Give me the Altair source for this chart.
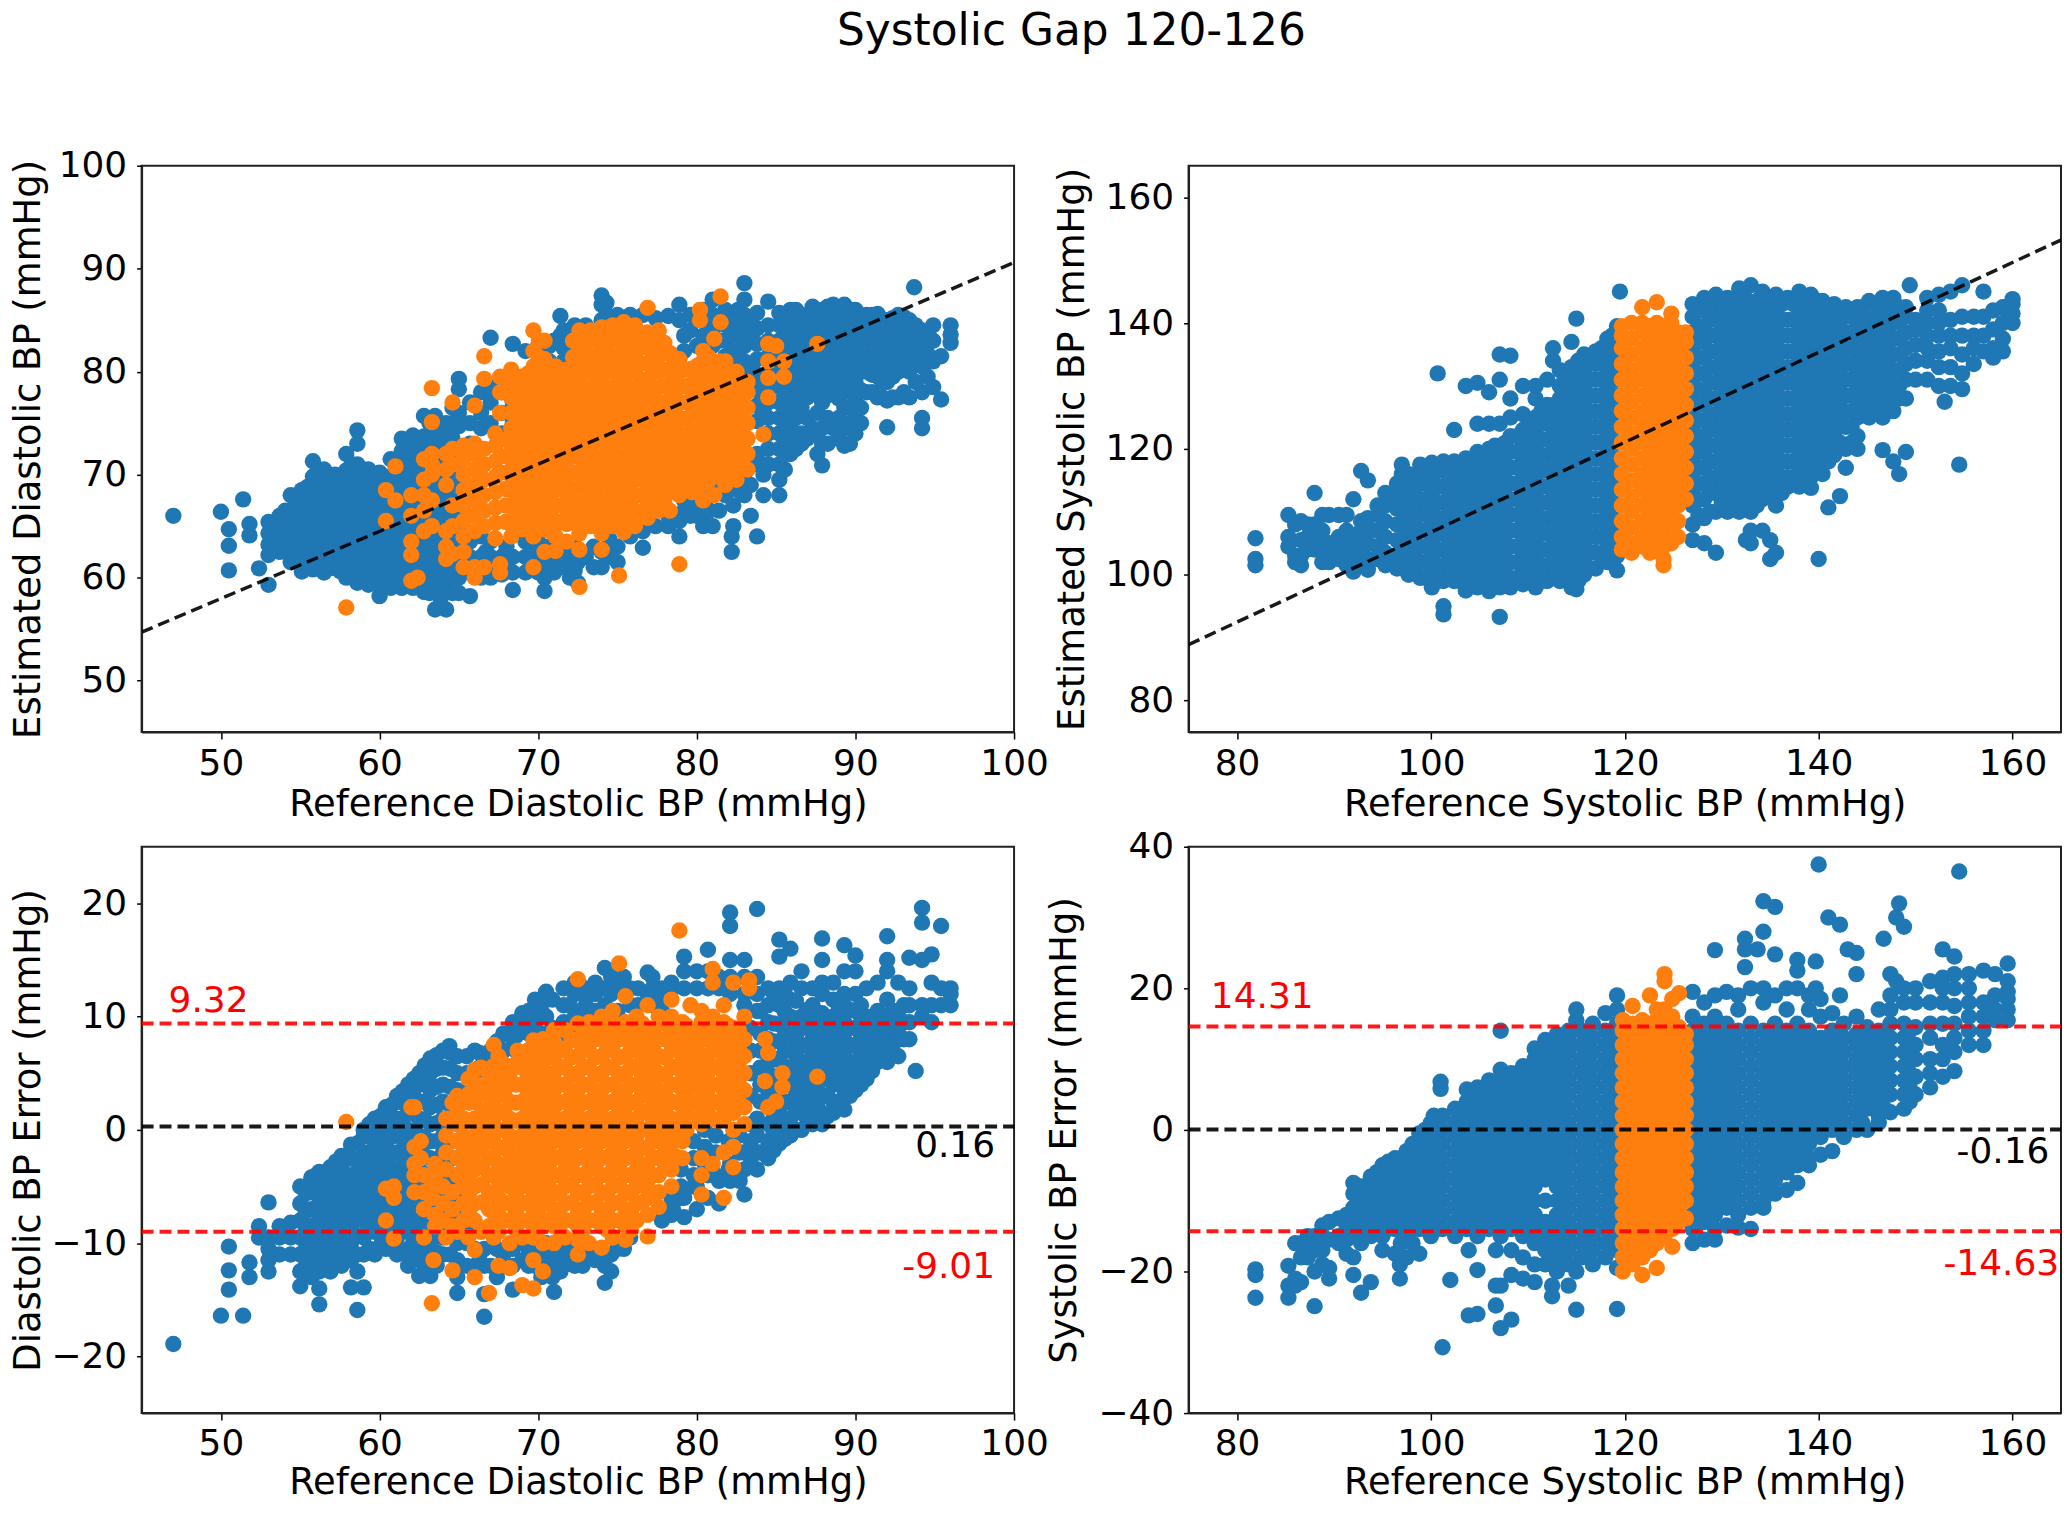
import altair as alt

TITLE = "Systolic Gap 120-126"
D_XLAB = "Reference Diastolic BP (mmHg)"
S_XLAB = "Reference Systolic BP (mmHg)"

D_EST_BLUE = [(47,[66]),(50,[66.4]),(50.5,[60.7,63.1,64.7]),(51.4,[67.6]),(51.8,[64.1,65.2]),(52.4,[60.9]),
(53,[59.3,62.2,63.2,64.3,65.4]),(53.7,[62.5,63.8,65,66]),(54.4,[61.5,63,64.3,65.5,66.5,68]),
(55.1,[60.6,62,63.2,64.5,65.7,67,68.5]),(55.8,[60.8,62.3,63.8,65.3,66.8,68.3,69.8,71.3]),
(56.5,[60.5,62,63.5,65,66.5,68,69.5,70.5]),(57.2,[60.9,62.4,63.9,65.4,66.9,68.4,70]),
(57.9,[60,61.5,63,64.5,66,67.5,69,70.4,72]),(58.6,[59.5,61,62.5,64,65.5,67,68.5,70,71,73,74.3]),
(59.3,[59.3,60.8,62.3,63.8,65.3,66.8,68.3,69.8,70.5]),(60,[58.2,60,61.5,63,64.5,66,67.5,69,70.2]),
(60.7,[59,60.7,62.2,63.7,65.2,66.7,68.2,69.7,71.5]),(61.4,[59,60.3,61.8,63.3,64.8,66.3,67.8,69.3,70.8,72.3,73.5]),
(62.1,[59,60.5,62,63.5,65,66.5,68,69.5,71,72.5,73.8]),(62.8,[58.6,60.2,61.7,63.2,64.7,66.2,67.7,69.2,70.7,72.2,73.7,75.7]),
(63.5,[56.9,59,60.5,62,63.5,65,66.5,68,69.5,71,72.5,74,75.7]),(64.2,[56.9,58.7,60.2,61.7,63.2,64.7,66.2,67.7,69.2,70.7,72.2,73.7,75]),
(65,[58.5,60,61.5,63,64.5,66,67.5,69,70.5,72,74.7,76,78.3,79.3]),(65.7,[58.2,60.5,62,63.5,73,75,77]),
(66.4,[60,62,64,74.5,76,78]),(67,[60,62,63.5,75,77,78.5,83.3]),(67.7,[60.3,62,74,76,78]),(68.4,[58.8,60.5,62,75,77,79,82.7]),
(69.2,[60.5,62,63.5,82]),(70,[60.5,62,63.5,82.5]),(70.4,[58.7,60]),(71,[60.5,62,83]),(71.4,[85.4,83.5]),(72,[60,62,83.5]),
(72.5,[59.5,61.5]),(73,[62,84.5]),(74,[61,62.5,87.4,86.5,85]),(74.3,[86.7,85.5]),(75,[61.5,63,85.5]),(75.8,[64,85.5]),
(76.6,[62.9,64.5,85.5]),(77.4,[65,85.2]),(78.2,[65,66,85.4]),(78.9,[64,65.5,86.5,85]),(79.6,[66,67,85.5,84]),
(80.4,[65,66,67,86,85,83.5]),(81,[65,68,87,85.5,84,82.5]),(81.8,[68,86,84.5,83,81.5]),(82.2,[62.5,64]),
(82.6,[68.5,70,86,85,83.5,82,80.5]),(83,[68,70,88.6,87,85.5,84,82.5,81]),(83.8,[64,71,72,85.7,84.2,82.7,81.2,79.7,78.2,76.7,75.2]),
(84.5,[71,72.5,74,75.5,77,78.5,80,81.5,83,84.5,86.8]),(85.2,[68,69.5,71,72.5,74,75.5,77,78.5,80,81.5,83,84.5,85.7]),
(85.9,[72,73,74.5,76,77.5,79,80.5,82,83.5,85,86]),(86.6,[73,74,76.5,78,79.5,81,82.5,84,85.5]),
(87.3,[74.5,78,79.2,80.7,82.2,83.7,85.2,86.3]),(87.9,[70.9,73,74.5,77,78.5,80,81.5,83,84.5,86]),
(88.6,[74.5,78,79.5,81,82.5,84,85.5,86.5]),(89.3,[72.8,74.5,76.5,78,79,80.5,82,83.5,85,86.5]),
(90,[74,75.5,77.5,79,81,82.5,84,85.5,86]),(90.7,[78,80,81.5,83,84.5,85.5]),(91.4,[77.5,79.5,81,82.5,84,85.6]),
(92,[74.6,77.2,79,80.5,82,83.5,85]),(92.7,[77.5,80,81.5,83,84.5,85.5]),(93.4,[77.5,80,82,83.5,85]),(93.7,[88.2]),
(94.2,[74.5,75.5,78,80.5,82.5,84]),(94.9,[78.5,81,83,84.5]),(95.4,[77.3,81.5]),(96,[82.8,83.6,84.5])]

D_EST_BLUE_MORE = [(66.7,[60.7,62.5]),(68,[61,63]),(69.6,[61.3,63]),(70.7,[61.3,63,81,82.5]),(71.6,[61,63,81,82.3,84]),(72.3,[60.7,63,81,82.5,84.5]),
(73.5,[61,63]),(74.5,[62,63.7]),(79.2,[66.5,67.5,82,83.5]),(80,[66,68,82.5]),(80.8,[66.5,68.5]),(81.4,[66.5,69,83]),(82.3,[65,67,69,80.5,82,83.5,85]),
(83.4,[66,69,71,79,80,83,84.5]),(84.2,[68,70,76,78,79.5]),
(54.05,[62.8,64,65.3,66.5]),(54.75,[61.8,63.3,64.8,66.3,67.5]),(55.45,[61.3,62.8,64.3,65.8,67.3,68.8]),(56.15,[61.3,62.8,64.3,65.8,67.3,68.8,70.3]),(56.85,[61.3,62.8,64.3,65.8,67.3,68.8,70]),
(57.55,[60.6,62.1,63.6,65.1,66.6,68.1,69.6]),(58.25,[60.5,62,63.5,65,66.5,68,69.5,71]),(58.95,[60.2,61.7,63.2,64.7,66.2,67.7,69.2,70.5]),(59.65,[59.5,61,62.5,64,65.5,67,68.5,70]),
(60.35,[59.4,60.8,62.3,63.8,65.3,66.8,68.3,69.8]),(61.05,[59.7,61,62.5,64,65.5,67,68.5,70,71.2]),(61.75,[59.7,61,62.5,64,65.5,67,68.5,70,71.5,73]),(62.45,[59.5,61,62.5,64,65.5,67,68.5,70,71.5,73]),
(63.15,[58.5,60,61.5,63,64.5,66,67.5,69,70.5,72,73.5,75]),(63.85,[58,59.5,61,62.5,64,65.5,67,68.5,70,71.5,73,74.5]),(64.6,[58.5,60,61.5,63,64.5,66,67.5,69,70.5,72,73.5,75,76.5]),
(85.55,[70.5,72,73.5,75,76.5,78,79.5,81,82.5,84,85.5]),(86.25,[72.5,74,75.5,77,78.5,80,81.5,83,84.5,86]),(86.95,[73.5,75.5,77.5,79,80.5,82,83.5,85]),(87.6,[72,74,76,77.8,79.3,80.8,82.3,83.8,85.3]),
(88.25,[73,75.5,77.7,79.2,80.7,82.2,83.7,85.2,86.3]),(88.95,[73.5,75.5,77.4,79.2,80.7,82.2,83.7,85.2]),(89.65,[73,75,76.5,78.5,80,81.5,83,84.5,86]),(90.35,[75,76.5,78.2,80,81.5,83,84.5]),
(91.05,[78,79.7,81.2,82.7,84.2,85.5]),(91.7,[77.5,79,80.5,82,83.5,85]),(92.35,[77.5,79.5,81,82.5,84,85.2]),(93.05,[78,80.7,82.3,83.8,85.3]),(93.8,[79,81.3,83,84.5]),(94.55,[79.5,81.7,83.5])]

D_EST_ORANGE = [(57.9,[57.1]),(60.4,[65.5,68.5]),(61,[67.5,70.8]),(62,[59.7,62.2,63.5,66,68]),(62.4,[60]),(62.8,[64.5,66.5,68,69.5,71.5]),
(63.3,[65,67.5,70,71,72,75.1,78.4]),(64.2,[61.8,63,64.5,69,70.5,72]),(64.6,[62.3,65,67,71,72.5,77]),(65.3,[61,62.5,64,65.5,67,68.5,70,71.5,72.8]),
(66,[60,61,64.5,66,67.5,69,70.5,72,73,76.7]),(66.6,[61,65,66.5,68,69.5,71,72.5,79.3,81.5]),(67.3,[63.8,65.3,66.8,68.3,69.8,71.3,72.8,74]),
(67.6,[60.5,61.3,76,78,79.5]),(68.3,[64,65.5,67,68.5,70,71.5,73,74.5,76,77.5,79,80.2]),(69,[64.7,66.2,67.7,69.2,70.7,72.2,73.7,75.2,76.7,78.2,79.5]),
(69.7,[61,64,65.5,67,68.5,70,71.5,73,74.5,76,77.5,79,80.5,82,84]),(70.4,[62.5,64.7,66.2,67.7,69.2,70.7,72.2,73.7,75.2,76.7,78.2,79.7,81.2,83]),
(71.1,[62.6,64,65.5,67,68.5,70,71.5,73,74.5,76,77.5,79,80.5]),(71.8,[63.5,65.2,66.7,68.2,69.7,71.2,72.7,74.2,75.7,77.2,78.7,80.2]),
(72.6,[59.1,62.7,64.3,65.8,67.3,68.8,70.3,71.8,73.3,74.8,76.3,77.8,79.3,80.8,82.3,84]),(73.3,[65,66.5,68,69.5,71,72.5,74,75.5,77,78.5,80,81.5,83,84]),
(74,[62.7,64.3,65.8,67.3,68.8,70.3,71.8,73.3,74.8,76.3,77.8,79.3,80.8,82.3,84.3]),(74.7,[65,66.5,68,69.5,71,72.5,74,75.5,77,78.5,80,81.5,83,84.5]),
(75.1,[60.2]),(75.4,[64.4,65.8,67.3,68.8,70.3,71.8,73.3,74.8,76.3,77.8,79.3,80.8,82.3,83.8,84.8]),(76.1,[65,66.5,68,69.5,71,72.5,74,75.5,77,78.5,80,81.5,83,84.5]),
(76.9,[65.8,67.3,68.8,70.3,71.8,73.3,74.8,76.3,77.8,79.3,80.8,82.3,83.8,86.2]),(77.6,[66.5,68,69.5,71,72.5,74,75.5,77,78.5,80,81.5,83,84]),
(78.3,[66.5,68.3,69.8,71.3,72.8,74.3,75.8,77.3,78.8,80.3,81.8]),(78.9,[61.3,68,69.5,71,72.5,74,75.5,77,78.5,80,81.2]),
(79.7,[68.3,69.8,71.3,72.8,74.3,75.8,77.3,78.8,80.3]),(80.2,[85,86]),(80.4,[67.5,69,70.5,72,73.5,75,76.5,78,79.5,81,82]),
(81.1,[68,69.8,71.3,72.8,74.3,75.8,77.3,78.8,80.3,83.2]),(81.5,[84.8,87.3]),(81.8,[69,70.5,72,73.5,75,76.5,78,79.5,81]),
(82.5,[69.5,71.2,72.7,74.2,75.7,77.2,78.7,80]),(83.2,[70.5,72,73.5,75,76.5,78,79]),(84.2,[73.9]),(84.5,[77.5,79.4,81,82.7]),(85,[82.5]),(85.5,[79.5,81]),(87.6,[82.7])]

D_EST_ORANGE_MORE = [(67.95,[65.4,67,68.6,70.2,71.8,73.4]),(68.65,[65.4,67,68.6,70.2,71.8,73.4,75,76.6,78.2]),(69.35,[65.4,67,68.6,70.2,71.8,73.4,75,76.6,78.2,79.8]),
(70.05,[65.4,67,68.6,70.2,71.8,73.4,75,76.6,78.2,79.8,81.4,83]),(70.75,[64.5,66,67.6,69.2,70.8,72.4,74,75.6,77.2,78.8,80.4]),(71.45,[65.4,67,68.6,70.2,71.8,73.4,75,76.6,78.2,79.8]),
(72.2,[65.4,67,68.6,70.2,71.8,73.4,75,76.6,78.2,79.8,81.4,83]),(72.95,[65.6,67.2,68.8,70.4,72,73.6,75.2,76.8,78.4,80,81.6,83.2]),(73.65,[65.4,67,68.6,70.2,71.8,73.4,75,76.6,78.2,79.8,81.4,83]),
(74.35,[65.6,67.2,68.8,70.4,72,73.6,75.2,76.8,78.4,80,81.6,83.2]),(75.05,[65.4,67,68.6,70.2,71.8,73.4,75,76.6,78.2,79.8,81.4,83]),(75.75,[65.6,67.2,68.8,70.4,72,73.6,75.2,76.8,78.4,80,81.6,83.2]),
(76.5,[66.4,68,69.6,71.2,72.8,74.4,76,77.6,79.2,80.8,82.4,83.6]),(77.25,[67.2,68.8,70.4,72,73.6,75.2,76.8,78.4,80,81.6,83.2]),(77.95,[67.4,69,70.6,72.2,73.8,75.4,77,78.6,80.2,81.8,82.8]),
(78.6,[68.4,70,71.6,73.2,74.8,76.4,78,79.6,81.2]),(79.3,[69,70.6,72.2,73.8,75.4,77,78.6,80.2]),(80.05,[69.4,71,72.6,74.2,75.8,77.4,79,80.6]),(80.75,[69.4,71,72.6,74.2,75.8,77.4,79,80.6,81.4]),
(81.45,[70,71.6,73.2,74.8,76.4,78,79.6,81]),(82.15,[70.4,72,73.6,75.2,76.8,78.4,79.5]),(82.85,[71,72.6,74.2,75.8,77.4,79])]

S_EST_BLUE = [(81.9,[101.5,102.5,105.8]),(85.3,[104.5,106,109.5]),(86,[102,103,108]),(86.6,[101.5,103,105.5,108.5]),(87.3,[104,106,108]),
(88,[104,106,108,113]),(88.8,[102,104,105.5,107,109.5]),(89.5,[102,103.5,105,109.5]),(90.5,[102.5,104,106,109.5]),(91.3,[101.5,103.5,105,107,109.5]),
(92,[100.5,102.5,104,106,112]),(92.8,[102,103.5,105,107,108.5,116.5]),(93.5,[100.8,102.5,105,107,109,115]),(94.5,[102.5,104.5,107,109.5,111]),
(95.3,[101.5,103.5,106,108.5,111,113]),(96.5,[101,103,105.5,108,110.5,112.5,114.5]),(97,[117.5,116]),(97.7,[100,102,104.5,107,109.5,112,114,116]),
(98.9,[99.5,102,104.5,107,109.5,112,114.5,117.5]),(100.1,[98,100.5,103,105.5,108,110.5,113,115.5,117.8]),(100.7,[132]),
(101.3,[93.7,95,99,101.5,104,106.5,109,111.5,114,116.5,118]),(102.4,[99,100.5,103,105.5,108,110.5,113,115.5,118,123]),
(103.6,[97.5,100,102.5,105,107.5,110,112.5,115,117.5,118.5,130]),(104.8,[98,100.5,103,105.5,108,110.5,113,115.5,118,119.5,124,130.5]),
(106,[97.4,99.5,102,104.5,107,109.5,112,114.5,117,120,124,129]),(107.1,[93.3,98,100.5,103,105.5,108,110.5,113,115.5,118,120.5,124,131,135]),
(108.2,[98,99.5,102,104.5,107,109.5,112,114.5,117,119.5,122,125,128,134.8]),(109.5,[98.5,101,103.5,106,108.5,111,113.5,116,118.5,121,123,125.5,130]),
(110.8,[98,100,102.5,105,107.5,110,112.5,115,117.5,120,122.5,125,128,130]),(112,[99,101.5,104,106.5,109,111.5,114,116.5,119,121.5,124,127,131]),
(112.6,[134,136]),(113.3,[99,100.5,103,105.5,108,110.5,113,115.5,118,120.5,123,125.5,128,130,132.5]),
(114.5,[98,101,103.5,106,108.5,111,113.5,116,118.5,121,123.5,126,128.5,131,133,137]),(115,[97.7,140.7]),
(115.8,[100,102.5,105,107.5,110,112.5,115,117.5,120,122.5,125,127.5,130,132.5,135]),(117,[101,103.5,106,108.5,111,113.5,116,118.5,121,123.5,126,128.5,131,133.5,135.5]),
(118.2,[102,105,107.5,110,112.5,115,117.5,120,122.5,125,127.5,130,132.5,135,137.5]),(119.2,[100.7,103,106,108.5,111,113.5,116,118.5,121,123.5,126,128.5,131,133.5,136,139.5]),(119.5,[145]),
(127,[105.5,108,111,113.5,116,118.5,121,123.5,126,128.5,131,133.5,136,138.5,141,143]),(128.2,[105,109,112,114.5,117,119.5,122,124.5,127,129.5,132,134.5,137,139.5,142,144]),
(129.4,[103.5,110,113,115.5,118,120.5,123,125.5,128,130.5,133,135.5,138,140.5,143,144.5]),(130.6,[110,112,114.5,117,119.5,122,124.5,127,129.5,132,134.5,137,139.5,142,144]),
(131.8,[110,113,115.5,118,120.5,123,125.5,128,130.5,133,135.5,138,140.5,143,145.5]),(132.5,[105.5]),(133,[105,107,110,112.5,115,117.5,120,122.5,125,127.5,130,132.5,135,137.5,140,142.5,146]),
(134.2,[107,112,114.5,117,119.5,122,124.5,127,129.5,132,134.5,137,139.5,142,145]),(135,[102.5,105.5]),(135.6,[103.5,111,114,116.5,119,121.5,124,126.5,129,131.5,134,136.5,139,141.5,144.5]),
(136.8,[114,115.5,118,120.5,123,125.5,128,130.5,133,135.5,138,140.5,144]),(138,[114,116.5,119,121.5,124,126.5,129,131.5,134,136.5,139,141.5,145]),
(139.2,[113.8,115.5,118,120.5,123,125.5,128,130.5,133,135.5,138,140.5,144.5]),(140,[102.5]),(140.4,[116,119,121.5,124,126.5,129,131.5,134,136.5,139,141.5,143.5]),(141,[110.7]),
(141.6,[119,122.5,125,127.5,130,132.5,135,137.5,140,143]),(142.2,[112.5]),(142.8,[117,120,123.5,126,128.5,131,133.5,136,138.5,141,142.5]),
(144,[120,122,125,127.5,130,132.5,135,137.5,140,142.5]),(145.2,[125,128,130.5,133,135.5,138,140.5,143.5]),(146.6,[119.8,125,127,129.5,132,134.5,137,139.5,142,144]),
(147.7,[118,126,130,132.5,135,137.5,140,142.5,144]),(148.3,[116]),(149,[119.5,128,131,133.5,136,138.5,141,142.5]),(149.4,[146]),(150,[131,134,136.5,139,140.5]),
(151.2,[131,134,136,138,140,142,144]),(152.4,[130,133,135.5,138,140,142,144.5]),(153,[127.5]),(153.6,[130,133,136,138,140.5,145]),(154.5,[117.5]),
(154.8,[129.5,132,135,138,141,146]),(156,[133.5,136,138,141]),(157,[135.5,138,141,145]),(158,[134.5,136,139,142]),(159,[135.5,137.5,140,142.5]),(160,[140,141.5,143,143.8])]

S_EST_BLUE_MORE = [(97.1,[101,103.5,106,108.5,111,113.5]),(98.3,[100.5,103,105.5,108,110.5,113,115.5]),(99.5,[99.5,102,104.5,107,109.5,112,114.5,116.5]),(100.7,[99,101.5,104,106.5,109,111.5,114,116.5]),
(101.9,[100,102.5,105,107.5,110,112.5,115,117.5]),(103,[99,101.5,104,106.5,109,111.5,114,116.5]),(104.2,[98.5,101,103.5,106,108.5,111,113.5,116,118]),(105.4,[98.5,101,103.5,106,108.5,111,113.5,116,118.5]),
(106.6,[98.5,101,103.5,106,108.5,111,113.5,116,118.5,120.5]),(107.7,[99,101.5,104,106.5,109,111.5,114,116.5,119,121]),(108.9,[99.5,102,104.5,107,109.5,112,114.5,117,119.5,122]),
(110.2,[99.5,102,104.5,107,109.5,112,114.5,117,119.5,122,124]),(111.4,[99,101.5,104,106.5,109,111.5,114,116.5,119,121.5,124,126]),(112.7,[100,102.5,105,107.5,110,112.5,115,117.5,120,122.5,125,127]),
(113.9,[100,102,104.5,107,109.5,112,114.5,117,119.5,122,124.5,127,129.5,131]),(115.2,[99,102,104.5,107,109.5,112,114.5,117,119.5,122,124.5,127,129,131.5,134]),
(116.4,[101,103.5,106,108.5,111,113.5,116,118.5,121,123.5,126,128.5,131,133.5]),(117.6,[103,106,108.5,111,113.5,116,118.5,121,123.5,126,128.5,131,133.5,136]),
(118.7,[103.5,106,108.5,111,113.5,116,118.5,121,123.5,126,128.5,131,133.5,136,138]),
(127.6,[109.5,112,114.5,117,119.5,122,124.5,127,129.5,132,134.5,137,139.5,142]),(128.8,[110,113,115.5,118,120.5,123,125.5,128,130.5,133,135.5,138,140.5,143]),
(130,[111.5,114,116.5,119,121.5,124,126.5,129,131.5,134,136.5,139,141.5,143.5]),(131.2,[111,113.5,116,118.5,121,123.5,126,128.5,131,133.5,136,138.5,141,143.5]),
(132.4,[111.5,114,116.5,119,121.5,124,126.5,129,131.5,134,136.5,139,141.5,144]),(133.6,[111,113.5,116,118.5,121,123.5,126,128.5,131,133.5,136,138.5,141,143.5]),
(134.9,[113,115.5,118,120.5,123,125.5,128,130.5,133,135.5,138,140.5,143]),(136.2,[113,115.5,118,120.5,123,125.5,128,130.5,133,135.5,138,140.5,143]),
(137.4,[115.5,118,120.5,123,125.5,128,130.5,133,135.5,138,140.5,143]),(138.6,[114.5,117,119.5,122,124.5,127,129.5,132,134.5,137,139.5,142,143.5]),
(139.8,[117,119.5,122,124.5,127,129.5,132,134.5,137,139.5,142,143.5]),(141,[118,120.5,123,125.5,128,130.5,133,135.5,138,140.5,142.5]),(142.2,[121,124,126.5,129,131.5,134,136.5,139,141.5]),
(143.4,[121,123.5,126,128.5,131,133.5,136,138.5,141,142]),(144.6,[126,128.5,131,133.5,136,138.5,141,142.5]),(145.9,[126,128.5,131,133.5,136,138.5,141,143]),
(147.1,[127,129,131.5,134,136.5,139,141.5,143.5]),(148.3,[128,130,132.5,135,137.5,140,142.5])]

S_EST_ORANGE = [(119.7,[104,106,108.5,111,113.5,116,118.5,121,123.5,126,128.5,131,133.5,136,138,139.5]),
(120.7,[103.5,105,107.5,110,112.5,115,117.5,120,122.5,125,127.5,130,132.5,135,137.5,140]),
(121.8,[104.5,106,108.5,111,113.5,116,118.5,121,123.5,126,128.5,131,133.5,136,138.5,140,142.5]),
(122.6,[103.5,105.5,107.5,110,112.5,115,117.5,120,122.5,125,127.5,130,132.5,135,137.5,139.5]),
(123.3,[105,106.5,108.5,111,113.5,116,118.5,121,123.5,126,128.5,131,133.5,136,138.5,140,143.3]),
(124,[101.5,102.5,104.5,107,109.5,112,114.5,117,119.5,122,124.5,127,129.5,132,134.5,137,139.5]),
(124.8,[105,108,110.5,113,115.5,118,120.5,123,125.5,128,130.5,133,135.5,138,140,141.5]),
(125.5,[106,108.5,111,113.5,116,118.5,121,123.5,126,128.5,131,133.5,136,138.5]),
(126.3,[112,114.5,117,119.5,122,124.5,127,129.5,132,134.5,137,138.5])]

D_ERR_BLUE = [(47,[-18.9]),(50,[-16.4]),(50.5,[-14.1,-12.4,-10.3]),(51.4,[-16.4]),(51.8,[-13,-11.7]),(52.4,[-9.5,-8.5]),
(53,[-12.5,-11.5,-10.5,-9.5,-6.4]),(53.7,[-11,-9.5,-8.5]),(54.4,[-11,-9.5,-8.2]),(55,[-13.8,-12.5,-11,-9.5,-8,-6.5,-5]),
(55.7,[-13,-11.5,-10,-8.5,-7,-5.5,-4.2]),(56.2,[-15.4,-14,-12.5,-11,-9.5,-8,-6.5,-5,-3.7]),(56.9,[-12.5,-10.5,-9,-7.5,-6,-4.5,-3.3]),
(57.6,[-12,-11,-9.5,-8,-6.5,-5,-3.5,-2.3]),(58.2,[-13.9,-11.5,-10,-8.5,-7,-5.5,-4,-2.5,-1.3]),(58.6,[-15.9,-12.5]),(59,[-13.9,-11,-9.5,-8,-6.5,-5,-3.5,-2,-0.5,0]),
(59.7,[-11,-9,-7.5,-6,-4.5,-3,-1.5,0,1]),(60.4,[-10.5,-9,-7.5,-6,-4.5,-3,-1.5,0,1.5,2]),(61.1,[-11,-9.5,-8,-6.5,-5,-3.5,-2,-0.5,1,2.5,3]),
(61.8,[-12,-10.5,-9,-7.5,-6,-4.5,-3,-1.5,0,1.5,3,4]),(62.5,[-12.9,-11,-9.5,-8,-6.5,-5,-3.5,-2,-0.5,1,2.5,4,5]),
(63.2,[-12.9,-11.5,-10,-8.5,-7,-5.5,-4,-2.5,-1,0.5,2,3.5,5,6.3]),(64,[-11,-9.5,-8,-6.5,-5,-3.5,-2,-0.5,1,2.5,4,5.5,7]),
(64.4,[7.4]),(64.9,[-14.4,-13,-11.5,-10,-8.5,-7,-5.5,-4,-2.5,-1,0.5,2,3.5,5,6.5]),(66,[-12,-10.5,7]),(66.6,[-16.5,-14.5,-12,-10.5,5,6.2]),(67.4,[-13,-10.5,6.5,7.8]),
(68.4,[-14.1,-12,-10.5,8,9.5]),(69,[-11.5,-10,9,10.3]),(69.8,[-12,-10.5,9.5,11.5]),(70.5,[-11.5,-10,10,11.5,12.2]),(71,[-14.3,-12,-10]),(71.6,[-12,-10.5,9.5,11,12.5]),
(72.3,[-12,-10,10,12,13]),(73,[-11,-10,9.5,11,12.5]),(74.2,[-13.5,-12,-11,9.7,11,12.5,14.3]),(75,[-10.5,10.5,12.5]),(75.8,[-9.5,11,12.5]),(76.9,[12,13.9]),(77.8,[11.5,12.5]),
(78.5,[-7,12.5]),(79.2,[-7.7,-6,12.5,15.3,14]),(80,[-7,-5,12.5,14]),(80.7,[-6,-4,12.5,14,15.9]),(81.4,[-6.5,-4.5,12.5,13.5]),(82.1,[-4.5,-3,12,13.5,15,18,19.2]),
(83,[-5.7,-3.5,-2,11,12,13.5,15]),(83.8,[-3.5,-2,-0.5,1,10.5,12,13.5,19.5]),(84.5,[-2.5,-1,0.5,2,3.5,5,6.5,8,9.5,11,12.5]),
(85.2,[-1.2,0.3,1.8,3.3,4.8,6.3,7.8,9.3,11,12.5,15.3,16.8]),(85.9,[-0.5,1,2.5,4,5.5,7,8.5,10,11.5,13,16]),(86.6,[0,1.5,3,4.5,6,7.5,9,10,12.5,14]),
(87.3,[0.5,2,3.5,5,6.5,8,9.5,11,12.5]),(87.9,[0.5,1.5,3,4.5,6,7.5,9,10.3,12,13,15,16.9]),(88.6,[1.5,2.5,4,5.5,7,8.5,10,11.5,13]),(89.3,[1.8,3.5,5,6.5,8,9.5,11,12,14,16.3]),
(90,[3.5,4.5,6,7.5,9,10.5,12,14,15.4]),(90.7,[4.5,6,7.5,9,10,12.5]),(91.4,[6,7.5,9,10.5,13]),(92,[6,7,8.5,10,11.5,14,15,17.1]),(92.7,[6.5,8,9,10.5,13]),(93.4,[8,9.5,11,12.5,15.2]),
(93.8,[5.2]),(94.2,[10,11,18.3,19.6,15]),(94.8,[9.5,11,15.5,13]),(95.4,[11,12.5,18]),(96,[11,12,12.5])]

D_ERR_BLUE_MORE = [(65.5,[-12,-10,-9,3.5,5,6.5]),(66.3,[-11,4,5.5,6.8]),(67,[-12,6,7]),(67.8,[-11,7,8.5]),(68.6,[7,8.3]),(69.4,[-12,-10.5,8.5,9.5,10.5]),(70.2,[-13,-11,8.5,10.5,11.5]),
(70.9,[-13,-10.5,9,11.5]),(71.4,[-12.5,-11,8.5]),(72,[-11,8.5,11]),(72.8,[-12,8.5,10.5,12]),(73.6,[-11.5,-10.5,9,10.5,12,13]),(74.6,[-12.5,-11,10.5,12,13.5]),(75.4,[-10.5,12.5,13.5]),
(76.3,[11,12.5]),(77.2,[11,12.5,13.5]),(77.8,[-8,-7,10.5]),(78.4,[-7.5,-6,13]),(79,[-6,-5,-3.5]),(79.8,[-5,-4,-2.5,-1]),(80.5,[-3,-1.5,0]),(81.2,[-4,-2,-0.5]),(82,[-3.5,-1]),(82.7,[-4.5,-2,-0.5]),
(83.4,[-3,-1,0.5,3,5,7,9]),(84,[-2,2.5,4,5.5,7,8.5,10.5]),
(55.35,[-12,-10.5,-8.8,-7.2,-5.6]),(56,[-10.3,-8.7,-7.1,-5.5,-4]),(56.55,[-11.5,-10,-8.5,-7,-5.3,-3.8]),(57.25,[-11.2,-10,-8.5,-7,-5.3,-3.8,-2.8]),(57.9,[-10.8,-9,-7.4,-5.8,-4.2,-2.6]),
(58.6,[-11,-9.3,-7.7,-6,-4.5,-2.8,-1.2]),(59.35,[-10.5,-8.6,-7,-5.4,-3.8,-2.2,-0.6,0.5]),(60.05,[-10.2,-8.4,-6.8,-5.2,-3.6,-2,-0.4,1.2]),(60.75,[-10.5,-8.6,-7,-5.4,-3.8,-2.2,-0.6,1,2.2]),
(61.45,[-10.8,-8.8,-7.2,-5.6,-4,-2.4,-0.8,0.8,2.4,3.4]),(62.15,[-11.5,-9.8,-8.2,-6.6,-5,-3.4,-1.8,-0.2,1.4,3,4.5]),(62.85,[-12,-10.3,-8.7,-7.1,-5.5,-3.9,-2.3,-0.7,0.9,2.5,4.1,5.7]),
(63.6,[-12,-10.8,-9,-7.4,-5.8,-4.2,-2.6,-1,0.6,2.2,3.8,5.4,6.6]),(64.45,[-11,-9,-7.4,-5.8,-4.2,-2.6,-1,0.6,2.2,3.8,5.4,6.8]),
(84.85,[-1.8,-0.2,1.4,3,4.6,6.2,7.8,9.4,11.5]),(85.55,[-0.8,0.8,2.4,4,5.6,7.2,8.8,10.4,12]),(86.25,[0,1.8,3.4,5,6.6,8.2,9.8,11.4]),(86.95,[1,2.6,4.2,5.8,7.4,9,10.6]),(87.6,[1,2.4,3.8,5.4,7,8.6,10.2]),
(88.25,[1.2,3,4.8,6.4,8,9.6]),(88.95,[2.5,4.2,5.8,7.4,9,10.6]),(89.65,[3,4.2,5.8,7.4,9,10.6]),(90.35,[4,5.2,6.8,8.4,10,11]),(91.05,[5.2,6.8,8.4,10]),(91.7,[6.5,8.2,9.8]),(92.35,[7.5,9.2,10.5]),(93.05,[8,9.5,11])]

D_ERR_ORANGE = [(57.9,[0.7]),(60.4,[-8,-5.2]),(60.9,[-9.6,-6,-5]),(62,[2]),(62.2,[-5.5,-4,-3,-1.5,2]),(62.6,[-2.5,-1]),(62.8,[-9.5,-7,-5.5,-4]),(63.3,[-15.3,-6,-5]),(63.4,[-11.5]),(63.5,[-8.5,-7.5,-4,-3]),
(64,[-8,-6.5,-5]),(64.2,[-9.5,-3.5,-2,-0.5,1]),(64.6,[-12.4,-8.5,-7,-5.5,1,2.4]),(64.9,[-9,-4,-2.5,-1,0.5,2,3]),(65.3,[-8,-6.5,-5,-3.5,-2,-0.5,1,2.5]),(65.6,[-9.5,4.5]),(66,[-13,-10.6,-8,-6.5,-5,-3.5,-2,-0.5,1,2.5,4,5.3]),(66.4,[-9,5.5]),
(66.9,[-14.4,-8.5,-7,-5.5,-4,-2.5,-1,0.5,2,3.5,5]),(67.2,[-9.5,5.5,7.5]),(67.5,[-12,-9,-7.5,-6,-4.5,-3,-1.5,0,1.5,3,4.5,6.5]),(68.2,[-12.2,-10,-8,-6.5,-5,-3.5,-2,-0.5,1,2.5,4,5]),(68.7,[6,7]),
(69,[-13.7,-9.5,-8,-6.5,-5,-3.5,-2,-0.5,1,2.5,4,5.5]),(69.7,[-14,-11.5,-9.5,-8.5,-7,-5.5,-4,-2.5,-1,0.5,2,3.5,5,6.5,7.9]),(70.3,[-12.5,-10,-8,-6.5,-5,-3.5,-2,-0.5,1,2.5,4,5.5,7,8]),
(71,[-10,-8.5,-7,-5.5,-4,-2.5,-1,0.5,2,3.5,5,6.5,7.8,8.8]),(71.7,[-9.5,-8,-6.5,-5,-3.5,-2,-0.5,1,2.5,4,5.5,7,8.8]),(72.5,[-11,-9.7,-8.5,-7,-5.5,-4,-2.5,-1,0.5,2,3.5,5,6.5,7.8,9.4,13.3]),
(73.2,[-10,-8,-6.5,-5,-3.5,-2,-0.5,1,2.5,4,5.5,7,8,9.5]),(74,[-10.4,-8.5,-7,-5.5,-4,-2.5,-1,0.5,2,3.5,5,6.5,8,9.5,10]),(74.7,[-9.5,-8,-6.5,-5,-3.5,-2,-0.5,1,2.5,4,5.5,7,8.5,9.5,10.5]),
(75.1,[14.7]),(75.5,[-9.7,-8.5,-7,-5.5,-4,-2.5,-1,0.5,2,3.5,5,6.5,8,9.5,11.8]),(76.2,[-8,-6.5,-5,-3.5,-2,-0.5,1,2.5,4,5.5,7,8.5,10]),
(76.9,[-9.4,-7.5,-6,-4.5,-3,-1.5,0,1.5,3,4.5,6,7.5,9,11]),(77.6,[-6.8,-5.5,-4,-2.5,-1,0.5,2,3.5,5,6.5,8,10]),(78.4,[-5,-3.5,-2,-0.5,1,2.5,4,5.5,7,8.5,10,11.5]),
(78.9,[17.6]),(79.1,[-2.5,-1,0.5,2,3.5,5,6.5,8,9.5]),(79.6,[1,2.5,4,5.5,7,8.5,11]),(80.3,[-5.7,-4,-2.5,0.5,2,3.5,5,6.5,8,9.5,10.5]),(81,[-3,1,2.5,4,5.5,7,8.5,10,13,14.2]),(81.7,[-6,-2,1,2,3.5,5,6.5,8,9.5,11]),
(82.3,[-3.3,-1.5,0,1.5,3,4.5,6,7.5,9,13]),(83,[0.5,2,3.5,5,6.5,8,10]),(83.3,[13.2,12.5]),(84.3,[4.3,8]),(84.5,[2,6.8]),(85,[2.5]),(85.4,[3.8,5]),(87.6,[4.7])]

D_ERR_ORANGE_MORE = [(65.65,[-7.2,-5.6,-4,-2.4,-0.8,0.8,2.4,3.2]),(66.45,[-6.4,-4.8,-3.2,-1.6,0,1.6,3.2,4]),(67.15,[-8.8,-7.2,-5.6,-4,-2.4,-0.8,0.8,2.4,4,5.6]),(67.85,[-8,-6.4,-4.8,-3.2,-1.6,0,1.6,3.2,4.8,5.8]),
(68.6,[-8.8,-7.2,-5.6,-4,-2.4,-0.8,0.8,2.4,4,5.6]),(69.35,[-8,-6.4,-4.8,-3.2,-1.6,0,1.6,3.2,4.8,6.4,7]),(70,[-8.8,-7.2,-5.6,-4,-2.4,-0.8,0.8,2.4,4,5.6,7.2]),(70.65,[-8,-6.4,-4.8,-3.2,-1.6,0,1.6,3.2,4.8,6.4,7.6]),
(71.35,[-8.8,-7.2,-5.6,-4,-2.4,-0.8,0.8,2.4,4,5.6,7.2]),(72.1,[-8,-6.4,-4.8,-3.2,-1.6,0,1.6,3.2,4.8,6.4,8]),(72.85,[-8.8,-7.2,-5.6,-4,-2.4,-0.8,0.8,2.4,4,5.6,7.2,8.8]),(73.6,[-8,-6.4,-4.8,-3.2,-1.6,0,1.6,3.2,4.8,6.4,8,9]),
(74.35,[-8.8,-7.2,-5.6,-4,-2.4,-0.8,0.8,2.4,4,5.6,7.2,8.8]),(75.1,[-8,-6.4,-4.8,-3.2,-1.6,0,1.6,3.2,4.8,6.4,8,9.2]),(75.85,[-8.8,-7.2,-5.6,-4,-2.4,-0.8,0.8,2.4,4,5.6,7.2,8.8]),(76.55,[-6.4,-4.8,-3.2,-1.6,0,1.6,3.2,4.8,6.4,8,9.4]),
(77.25,[-5.6,-4,-2.4,-0.8,0.8,2.4,4,5.6,7.2,8.8]),(78,[-3.2,-1.6,0,1.6,3.2,4.8,6.4,8,9.4]),(78.75,[-2.4,-0.8,0.8,2.4,4,5.6,7.2,8.8]),(79.35,[0,1.6,3.2,4.8,6.4,8,9.2]),(80,[0.8,2.4,4,5.6,7.2,8.8]),
(80.65,[1.6,3.2,4.8,6.4,8,9.2]),(81.35,[0.8,2.4,4,5.6,7.2,8.8]),(82,[3.2,4.8,6.4,8,9.2]),(82.65,[2.4,4,5.6,7.2,8.8])]

S_ERR_BLUE = [(81.9,[-23.7,-20.5,-19.7]),(85.3,[-23.7,-22,-19.2]),(86,[-22,-21,-16]),(86.6,[-21.5,-18,-16]),(87.3,[-18,-16.5,-15]),(88,[-24.9,-20,-17,-15]),
(88.8,[-19,-17,-15,-13.5]),(89.5,[-21,-19.5,-15.5,-13]),(90.5,[-16,-15,-12.5]),(91.3,[-17.5,-15.5,-14,-12]),(92,[-20.5,-18,-15,-13,-11,-9,-7.5]),(92.8,[-23,-16,-13.5,-11.5,-9.5,-8]),
(93.8,[-21.5,-15,-13,-11,-9,-6.6]),(95,[-17,-15,-12.5,-10.5,-8.5,-6.5,-5]),(96.3,[-17.5,-14,-12,-10,-8,-6,-4]),(96.8,[-21,-19]),(97.5,[-18,-15,-13,-11,-9,-7,-5,-3]),
(98.8,[-17.5,-14,-12,-10,-8,-6,-4,-2,-0.5]),(100,[-15,-13,-11,-9,-7,-5,-3,-1,1]),(100.3,[2]),(101,[5.8,6.8]),(101.2,[-30.7,-14,-12,-10,-8,-6,-4,-2,0,2]),(102,[-21.2]),
(102.5,[-15,-13,-11,-9,-7,-5,-3,-1,1,3]),(103.7,[-14,-12,-10,-8,-6,-4,-2,0,2,4,5.7]),(103.9,[-26.2,-17]),(104.8,[-26,-19.8,-15,-13,-11,-9,-7,-5,-3,-1,1,3,5,6]),
(106,[-14,-12,-10,-8,-6,-4,-2,0,2,4,6,7]),(106.7,[-24.8,-22,-17]),(107.2,[-28,-22,-15,-13,-11,-9,-7,-5,-3,-1,1,3,5,7,8.5,14]),(108.3,[-26.8,-20.5,-17,-14,-12,-10,-8,-6,-4,-2,0,2,4,6,8]),
(109.5,[-21,-18,-15,-13,-11,-9,-7,-5,-3,-1,1,3,5,7,9]),(110.7,[-21.5,-19,-16,-14,-12,-10,-8,-6,-4,-2,0,2,4,6,8,10,11.5]),(111.8,[-19,-17,-15,-13,-10,-7,-5,-3,-1,1,3,5,7,9,11,12.7]),
(112.5,[-23.5,-22]),(113,[-20,-18,-16,-14,-12,-10,-8,-6,-4,-2,0,2,4,6,8,10,12,13.5]),(114.2,[-22,-19,-17,-15,-13,-11,-9,-7,-5,-3,-1,1,3,5,7,9,11,13,14]),(115,[-25.4,-20,15.5,17]),
(115.5,[-18,-16,-14,-12,-10,-8,-6,-4,-2,0,2,4,6,8,10,12,14]),(116.7,[-19,-17,-15,-13,-11,-9,-7,-5,-3,-1,1,3,5,7,9,11,13,15]),(118,[-18,-16,-14,-12,-10,-8,-6,-4,-2,0,2,4,6,8,10,12,14,16.5]),
(119.2,[-25.3,-19.5,-17,-15,-13,-11,-9,-7,-5,-3,-1,1,3,5,7,9,11,13,15,17,19]),
(127,[-16,-14,-12,-10,-8,-6,-4,-2,0,2,4,6,8,10,12,14,16,19.5]),(128.2,[-15.5,-13,-11,-9,-7,-5,-3,-1,1,3,5,7,9,11,13,15,18]),(129.3,[-15.5,-14,-12,-10,-8,-6,-4,-2,0,2,4,6,8,10,12,14,16,19,25.4]),
(130.5,[-13.5,-11,-9,-7,-5,-3,-1,1,3,5,7,9,11,13,15,19.5]),(131.7,[-13.8,-12,-10,-8,-6,-4,-2,0,2,4,6,8,10,12,14,17,19]),(132.4,[23,25.5,27]),(133,[-14,-11,-9,-7,-5,-3,-1,1,3,5,7,9,11,13,15,20]),
(133.7,[25.5]),(134.3,[-11,-10,-8,-6,-4,-2,0,2,4,6,8,10,12,14,18,20,28,32.3]),(135.5,[-9,-7,-5,-3,-1,1,3,5,7,9,11,13,15,19,24.8,31.5]),(136.7,[-8.5,-6,-4,-2,0,2,4,6,8,10,12,14,17,20]),
(137.8,[-7.5,-5,-3,-1,1,3,5,7,9,11,13,15,20,22.5,24]),(139,[-5,-4,-2,0,2,4,6,8,10,12,14,17,19]),(139.7,[20,23.8]),(140,[37.5]),(140.2,[-3.5,-1,1,3,5,7,9,11,13,16,18.5]),(141,[30]),(141.4,[-3,0,2,4,6,8,10,12,14,16.5]),
(142.2,[29,19]),(142.6,[-1,1,3,5,7,9,11,13,15]),(143,[25.5]),(143.9,[0,2,4,6,8,10,12,13.5,16,22,25]),(145,[0,3,5,7,9,11,13,14.5]),(146.2,[1,2,4,6,8,10,12,14,17]),(146.7,[27]),(147.4,[2.5,5,7,9,11,13,15,17,19,22]),
(148,[30,21]),(148.3,[32]),(148.8,[3,5,7,9,11,13,15,18,20,28.7]),(150,[5,7.5,10,12,14.5,18,20]),(151.5,[6,8,10,13,15,18,21]),(152.8,[7.5,10,12,15,18,20,21.5,25.5]),(154,[8.3,11,13,15,17.5,20,22,24.5]),
(154.5,[36.5]),(155.5,[12,14,16,18,20,22]),(157,[12,14,16,18,22.5]),(158.2,[15.5,17,19,22]),(159.5,[15.5,17,18.5,19.5,21,23.5])]

S_ERR_BLUE_MORE = [(93.2,[-14.5,-12.5,-10.5,-8.5]),(94.4,[-14,-12,-10,-8,-6]),(95.6,[-14,-12,-10,-8,-6,-4.5]),(96.9,[-16,-14,-12,-10,-8,-6,-4]),(98.1,[-16,-14,-12,-10,-8,-6,-4,-2]),
(99.4,[-14,-12,-10,-8,-6,-4,-2,0]),(100.6,[-14,-12,-10,-8,-6,-4,-2,0,1.5]),(144.5,[1,3,5,7,9,11,13]),(146.8,[3,5,7,9,11,13]),(149.4,[4,6,8,10,12,14])]

S_ERR_ORANGE = [(119.8,[-20,-18,-16,-14,-12,-10,-8,-6,-4,-2,0,2,4,6,8,10,12,14,15.5]),(120.8,[-19,-17,-15,-13,-11,-9,-7,-5,-3,-1,1,3,5,7,9,11,13,15,17.5]),
(121.8,[-20.5,-18,-16,-14,-12,-10,-8,-6,-4,-2,0,2,4,6,8,10,12,14,15.5]),(122.6,[-17,-15,-13,-11,-9,-7,-5,-3,-1,1,3,5,7,9,11,13,15,19]),
(123.3,[-19.5,-16,-14,-12,-10,-8,-6,-4,-2,0,2,4,6,8,10,12,14,15.5,17]),(124.1,[-15,-13,-11,-9,-7,-5,-3,-1,1,3,5,7,9,11,13,15,17,21,22]),
(124.9,[-16.5,-14,-12,-10,-8,-6,-4,-2,0,2,4,6,8,10,12,14,16,18.5]),(125.6,[-13,-11,-9,-7,-5,-3,-1,1,3,5,7,9,11,13,14.5,19.3]),(126.3,[-12.5,-10,-8,-6,-4,-2,0,2,4,6,8,10,12,13.5])]

D_EST_LINE = [(45, 54.7), (100, 90.6)]
S_EST_LINE = [(75, 88.9), (165, 153.2)]
D_ERR_LEVELS = [(9.4, "red"), (0.3, "black"), (-9.0, "red")]
S_ERR_LEVELS = [(14.6, "red"), (0.05, "black"), (-14.3, "red")]
D_ERR_NOTES = [("9.32", 46.7, 11.4, "left", "red"), ("0.16", 98.8, -1.4, "right", "black"), ("-9.01", 98.8, -12.1, "right", "red")]
S_ERR_NOTES = [("14.31", 77.3, 18.7, "left", "red"), ("-0.16", 163.8, -3.1, "right", "black"), ("-14.63", 164.8, -18.9, "right", "red")]

FONT = "DejaVu Sans"
DOT = 270

def rows(cols):
    return [{"x": x, "y": y} for x, ys in cols for y in ys]

def panel(blue, orange, xdom, ydom, xticks, yticks, xlab, ylab, offset, lines, notes, tick, lab_pad, title_pad):
    xs = alt.Scale(domain=xdom, nice=False, zero=False)
    ys = alt.Scale(domain=ydom, nice=False, zero=False)
    xa = alt.Axis(values=xticks, format="d", title=xlab, labelFlush=False, labelOverlap=False, tickSize=tick, labelPadding=lab_pad, titlePadding=title_pad)
    ya = alt.Axis(values=yticks, format="d", title=ylab, labelOverlap=False, minExtent=70, maxExtent=70, titlePadding=offset - 70, labelPadding=10)
    b = alt.Chart(alt.Data(values=rows(blue))).mark_circle(size=DOT, opacity=1, color="#1f77b4", clip=True).encode(
        x=alt.X("x:Q", scale=xs, axis=xa), y=alt.Y("y:Q", scale=ys, axis=ya))
    o = alt.Chart(alt.Data(values=rows(orange))).mark_circle(size=DOT, opacity=1, color="#ff7f0e", clip=True).encode(
        x=alt.X("x:Q", scale=xs), y=alt.Y("y:Q", scale=ys))
    layers = [b, o]
    for (pts, color, w) in lines:
        vals = [{"x": p[0], "y": p[1]} for p in pts]
        layers.append(alt.Chart(alt.Data(values=vals)).mark_line(color=color, strokeWidth=w, strokeDash=[12, 6], clip=True, opacity=0.9).encode(
            x=alt.X("x:Q", scale=xs), y=alt.Y("y:Q", scale=ys)))
    for (txt, x, y, al, col) in notes:
        layers.append(alt.Chart(alt.Data(values=[{"x": x, "y": y, "t": txt}])).mark_text(
            font=FONT, fontSize=36, align=al, baseline="middle", color=col).encode(
            x=alt.X("x:Q", scale=xs), y=alt.Y("y:Q", scale=ys), text="t:N"))
    return alt.layer(*layers).properties(width=875, height=568)

def levels(lv, dom):
    return [([(dom[0], v), (dom[1], v)], "#ff0000" if c == "red" else "#000000", 4) for v, c in lv]

D = [45, 100]
S = [75, 165]
p1 = panel(D_EST_BLUE + D_EST_BLUE_MORE, D_EST_ORANGE + D_EST_ORANGE_MORE, D, [45, 100], [50, 60, 70, 80, 90, 100], [50, 60, 70, 80, 90, 100], D_XLAB, "Estimated Diastolic BP (mmHg)", 94, [(D_EST_LINE, "#000000", 3.5)], [], 7, 8, 5)
p2 = panel(S_EST_BLUE + S_EST_BLUE_MORE, S_EST_ORANGE, S, [75, 165], [80, 100, 120, 140, 160], [80, 100, 120, 140, 160], S_XLAB, "Estimated Systolic BP (mmHg)", 97, [(S_EST_LINE, "#000000", 3.5)], [], 7, 8, 5)
p3 = panel(D_ERR_BLUE + D_ERR_BLUE_MORE, D_ERR_ORANGE + D_ERR_ORANGE_MORE, D, [-25, 25], [50, 60, 70, 80, 90, 100], [-20, -10, 0, 10, 20], D_XLAB, "Diastolic BP Error (mmHg)", 94, levels(D_ERR_LEVELS, D), D_ERR_NOTES, 7, 7, 3)
p4 = panel(S_ERR_BLUE + S_ERR_BLUE_MORE, S_ERR_ORANGE, S, [-40, 40], [80, 100, 120, 140, 160], [-40, -20, 0, 20, 40], S_XLAB, "Systolic BP Error (mmHg)", 105, levels(S_ERR_LEVELS, S), S_ERR_NOTES, 7, 7, 3)

chart = alt.concat(p1, p2, p3, p4, columns=2, spacing=alt.RowColnumber(row=115, column=175), bounds="flush").properties(
    title=alt.TitleParams(TITLE, font=FONT, fontSize=44, fontWeight="normal", color="#000000", anchor="middle", offset=93, dx=36),
    padding=0,
).configure_view(stroke="#222222", strokeWidth=2).configure_axis(
    grid=False, labelFont=FONT, labelFontSize=36, titleFont=FONT, titleFontSize=37, titleFontWeight="normal",
    labelColor="#000000", titleColor="#000000", tickColor="#000000", domainColor="#222222", tickWidth=1.5, domainWidth=2,
)

chart.save("out.html", embed_options={"renderer": "svg", "actions": False})
